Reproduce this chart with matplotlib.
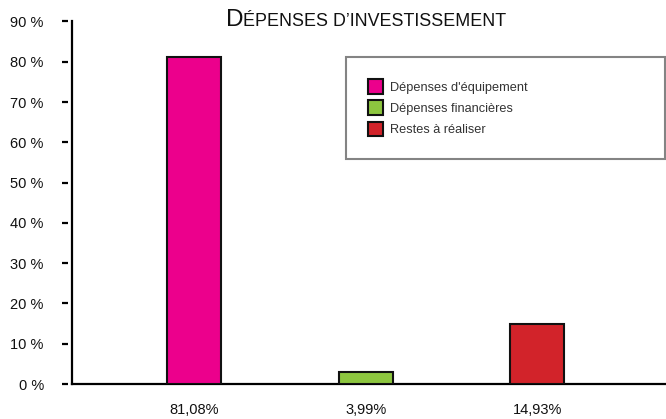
import matplotlib
matplotlib.use("Agg")
import matplotlib.pyplot as plt
from matplotlib.patches import Patch

# ---- data ----
categories = ["Dépenses d'équipement", "Dépenses financières", "Restes à réaliser"]
values = [81.08, 3.0, 14.93]
bar_labels = ["81,08%", "3,99%", "14,93%"]
colors = ["#EC008C", "#8DC63F", "#D2232A"]
yticks = [0, 10, 20, 30, 40, 50, 60, 70, 80, 90]
ytick_labels = [f"{v} %" for v in yticks]
title_first = "D"
title_rest = "ÉPENSES D’INVESTISSEMENT"

plt.rcParams["font.family"] = ["Liberation Sans", "DejaVu Sans"]

W, H = 666, 419
fig = plt.figure(figsize=(W / 100, H / 100), dpi=100)
ax = fig.add_axes([72 / W, 35 / H, (666 - 72) / W, (384 - 21.5) / H])

pos = list(range(len(values)))
ax.bar(pos, values, width=0.315, color=colors, edgecolor="#111111",
       linewidth=1.5, zorder=3)
ax.set_xlim(-0.714, 2.75)
ax.set_ylim(0, 90)

ax.set_xticks(pos)
ax.set_xticklabels(bar_labels)
ax.tick_params(axis="x", length=0, pad=14, labelsize=10.5, labelcolor="#111111")
ax.set_yticks(yticks)
ax.set_yticklabels(ytick_labels)
ax.tick_params(axis="y", length=4.3, width=1.6, pad=13, direction="out",
               labelsize=10.5, labelcolor="#111111")

for s in ("top", "right"):
    ax.spines[s].set_visible(False)
ax.spines["left"].set_position(("outward", 3))
ax.spines["left"].set_color("none")
ax.spines["bottom"].set_linewidth(1.6)
ax.axvline(ax.get_xlim()[0], color="black", lw=1.6, clip_on=False)

handles = [Patch(facecolor=c, edgecolor="#111111", linewidth=1.5, label=l)
           for c, l in zip(colors, categories)]
leg = fig.legend(handles=handles, loc="upper left",
                 bbox_to_anchor=(346 / W, 1 - 57 / H, (665 - 346) / W, 0.001),
                 mode="expand", fontsize=9.2, frameon=True, fancybox=False,
                 edgecolor="#666666", borderpad=1.75, handlelength=1.18,
                 handleheight=1.42, handletextpad=0.55, labelspacing=0.5,
                 borderaxespad=0)
leg.get_frame().set_linewidth(1.5)
for t in leg.get_texts():
    t.set_color("#333333")

# title in small caps
t1 = fig.text(0, 0, title_first, fontsize=17.5, color="#111111")
t2 = fig.text(0, 0, title_rest, fontsize=12.9, color="#111111")
fig.canvas.draw()
r = fig.canvas.get_renderer()
w1 = t1.get_window_extent(r).width
w2 = t2.get_window_extent(r).width
total = w1 + w2
x0 = 366 - total / 2
base = H - 26.5
t1.set_position((x0 / W, base / H))
t1.set_va("baseline")
t2.set_position(((x0 + w1) / W, base / H))
t2.set_va("baseline")

fig.savefig("out.png", dpi=100)
